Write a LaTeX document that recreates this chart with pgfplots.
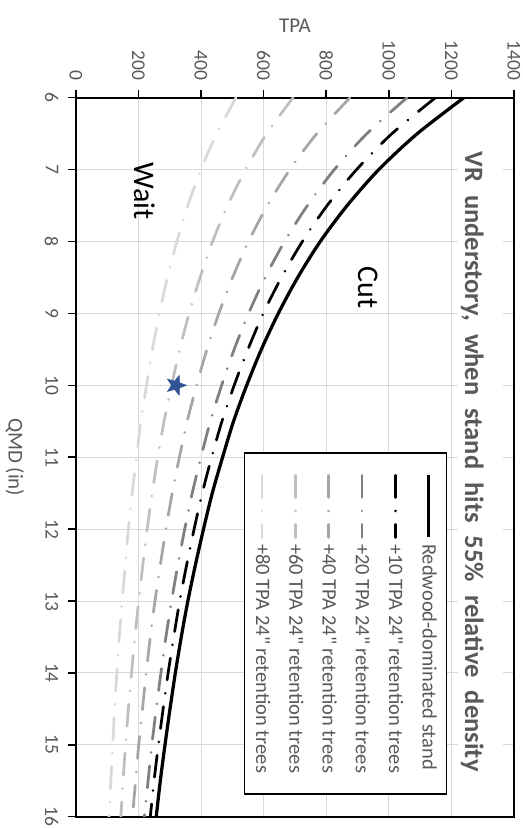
\documentclass[border=0pt]{standalone}
\usepackage{pgfplots}
\pgfplotsset{compat=1.18}
\usepackage{pgfplotstable}
\usepackage{fontspec}
\setmainfont{Carlito}[Ligatures=TeXOff]

\definecolor{txtgray}{HTML}{595959}
\definecolor{gridgray}{HTML}{D9D9D9}
\definecolor{g20}{HTML}{7F7F7F}
\definecolor{g40}{HTML}{A6A6A6}
\definecolor{g60}{HTML}{BFBFBF}
\definecolor{g80}{HTML}{D9D9D9}
\definecolor{starblue}{HTML}{2F5597}

% filled five-point star
\pgfdeclareplotmark{fstar}{%
  \pgfpathmoveto{\pgfpointpolar{90}{\pgfplotmarksize}}%
  \pgfpathlineto{\pgfpointpolar{126}{0.42\pgfplotmarksize}}%
  \pgfpathlineto{\pgfpointpolar{162}{\pgfplotmarksize}}%
  \pgfpathlineto{\pgfpointpolar{198}{0.42\pgfplotmarksize}}%
  \pgfpathlineto{\pgfpointpolar{234}{\pgfplotmarksize}}%
  \pgfpathlineto{\pgfpointpolar{270}{0.42\pgfplotmarksize}}%
  \pgfpathlineto{\pgfpointpolar{306}{\pgfplotmarksize}}%
  \pgfpathlineto{\pgfpointpolar{342}{0.42\pgfplotmarksize}}%
  \pgfpathlineto{\pgfpointpolar{18}{\pgfplotmarksize}}%
  \pgfpathlineto{\pgfpointpolar{54}{0.42\pgfplotmarksize}}%
  \pgfpathclose
  \pgfusepathqfillstroke}

% QMD (in) vs TPA at 55% relative density
\pgfplotstableread{
q t0 t10 t20 t40 t60 t80
6 1240 1149 1058 876 694 512
6.5 1091 1010 930 770 610 450
7 968 897 826 684 542 400
7.5 867 803 740 612 485 358
8 781 724 667 552 437 323
8.5 709 657 605 501 397 293
9 647 599 552 457 362 267
9.5 593 550 506 419 332 245
10 546 506 466 386 306 226
10.5 504 467 430 356 282 208
11 469 434 400 331 262 194
11.5 436 404 372 308 244 180
12 408 378 348 288 228 168
12.5 382 354 326 270 214 158
13 358 332 306 253 201 148
13.5 337 313 288 238 189 139
14 318 295 272 225 178 131
14.5 301 279 257 213 168 124
15 285 264 243 201 159 118
15.5 270 250 231 191 151 112
16 257 238 219 181 144 106
}\rdcurves

\tikzset{ldd/.style={line width=2.75bp, line cap=round,
  dash pattern=on 22bp off 13.5bp on 0.01bp off 13.5bp}}

\begin{document}
\rotatebox{-90}{%
\begin{tikzpicture}
\useasboundingbox (0,0) rectangle (828bp,523bp);
\begin{axis}[
  at={(97.7bp,75.8bp)}, anchor=south west,
  scale only axis, width=719bp, height=438.2bp,
  xmin=6, xmax=16, ymin=0, ymax=1400,
  xtick={6,7,...,16}, ytick={0,200,...,1400},
  xtick pos=bottom, ytick pos=left,
  tick align=outside, major tick length=8bp,
  tick style={black, line width=1.5bp},
  axis line style={black, line width=1.75bp},
  grid=major, major grid style={draw=gridgray, line width=1bp},
  scaled y ticks=false,
  /pgf/number format/1000 sep={},
  /pgf/number format/assume math mode=true,
  ticklabel style={font=\fontsize{19.5bp}{23bp}\selectfont, text=txtgray},
  xticklabel style={yshift=-6bp},
  yticklabel style={xshift=-6bp},
  xlabel={QMD (in)}, ylabel={TPA},
  label style={font=\fontsize{21bp}{25bp}\selectfont, text=txtgray},
  xlabel style={at={(axis description cs:0.5,-0.139)}, anchor=center},
  ylabel style={at={(axis description cs:-0.1004,0.5)}, anchor=center},
  legend cell align=left,
  legend image code/.code={\draw[#1] (0bp,0bp) -- (62bp,0bp);},
  legend style={at={(0.4928,0.8471)}, anchor=north west,
    draw=black, line width=1.5bp, fill=white,
    font=\fontsize{20.5bp}{24bp}\selectfont, text=txtgray,
    inner xsep=21bp, inner ysep=7.75bp, row sep=13.3bp,
    nodes={inner sep=0pt, text height=16bp, text depth=4bp},
    /tikz/every odd column/.append style={column sep=5bp}},
]
\addplot[black, line width=3.25bp, smooth] table[x=q, y=t0] {\rdcurves};
\addlegendentry{Redwood-dominated stand}
\addplot[black, ldd, smooth] table[x=q, y=t10] {\rdcurves};
\addlegendentry{+10 TPA 24" retention trees}
\addplot[g20, ldd, smooth] table[x=q, y=t20] {\rdcurves};
\addlegendentry{+20 TPA 24" retention trees}
\addplot[g40, ldd, smooth] table[x=q, y=t40] {\rdcurves};
\addlegendentry{+40 TPA 24" retention trees}
\addplot[g60, ldd, smooth] table[x=q, y=t60] {\rdcurves};
\addlegendentry{+60 TPA 24" retention trees}
\addplot[g80, ldd, smooth] table[x=q, y=t80] {\rdcurves};
\addlegendentry{+80 TPA 24" retention trees}
\addplot[only marks, mark=fstar, mark size=10.5bp, forget plot,
  mark options={fill=starblue, draw=starblue, line width=0.5bp}]
  coordinates {(10,320)};
\node[font=\fontsize{30bp}{36bp}\selectfont] at (axis cs:7.3,221) {Wait};
\node[font=\fontsize{30bp}{36bp}\selectfont] at (axis cs:8.64,935) {Cut};
\node[fill=white, inner xsep=5bp, inner ysep=0pt, text height=38bp,
  text depth=7bp, anchor=base, text=txtgray,
  font=\bfseries\fontsize{26.5bp}{30bp}\selectfont]
  at (rel axis cs:0.506,0.8882)
  {\spaceskip=13bp\relax VR understory, when stand hits 55\% relative density};
\end{axis}
\end{tikzpicture}}
\end{document}
